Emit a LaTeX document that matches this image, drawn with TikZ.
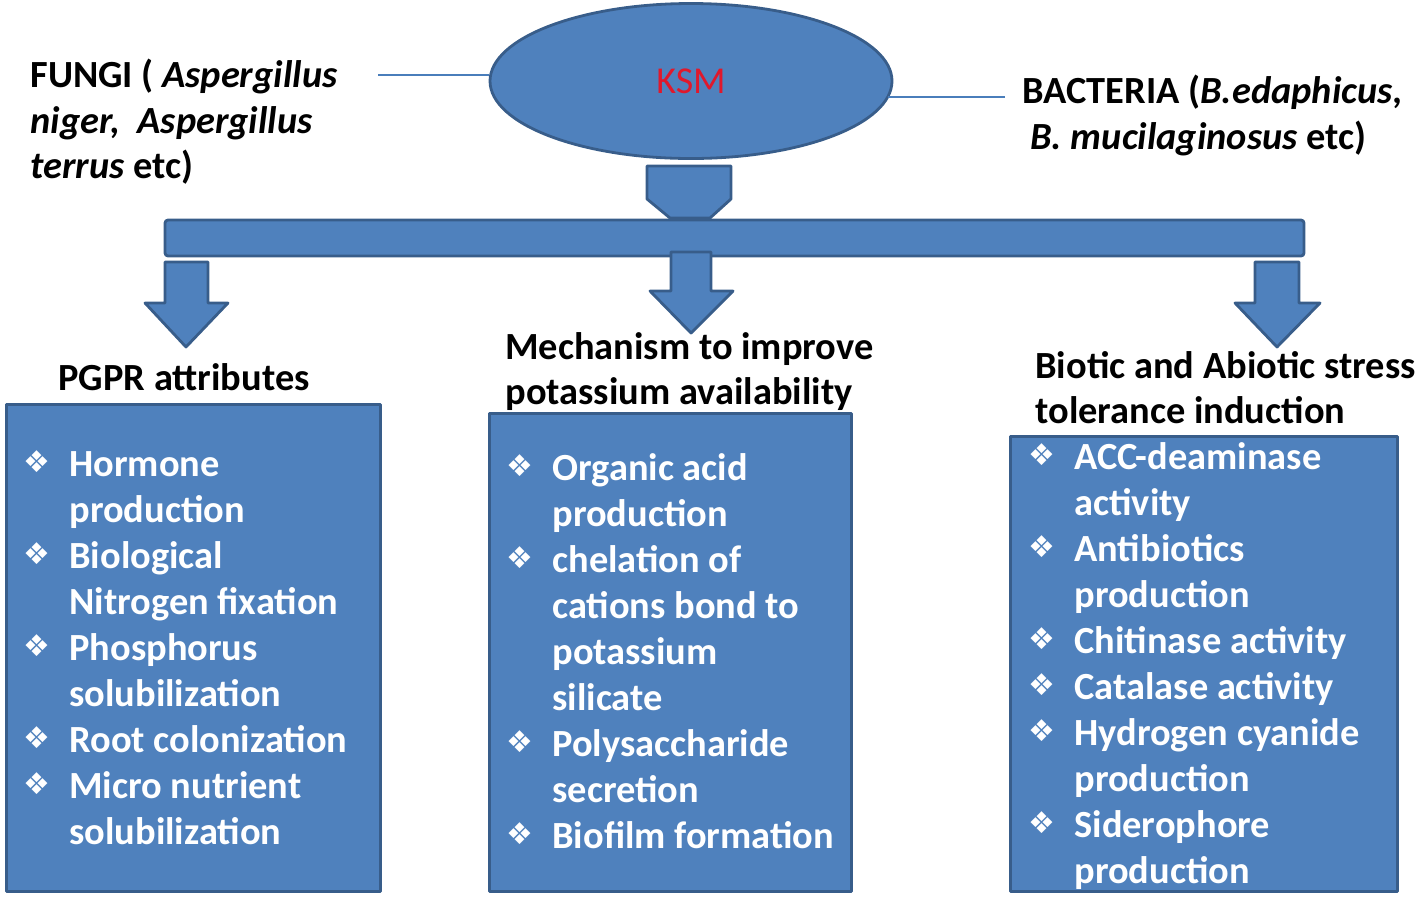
\documentclass[tikz,border=0pt]{standalone}
\usepackage{fontspec}
\setmainfont{Carlito}
\newfontfamily\djv{DejaVu Sans}
\usetikzlibrary{shapes.geometric}
\definecolor{fillb}{HTML}{4F81BD}
\definecolor{edgeb}{HTML}{385D8A}
\definecolor{lineb}{HTML}{4A7EBB}
\definecolor{ksmred}{HTML}{E0182C}
\begin{document}
\begin{tikzpicture}[x=0.5pt,y=-0.5pt,
 blk/.style={fill=fillb,draw=edgeb,line width=1.4pt,line join=round},
 wl/.style={anchor=base west,inner sep=0,text=white,font=\bfseries\fontsize{19.2}{23}\selectfont},
 hd/.style={anchor=base west,inner sep=0,font=\bfseries\fontsize{19.2}{23}\selectfont},
 bul/.style={anchor=base west,inner sep=0,text=white,font=\djv\fontsize{15}{15}\selectfont},
 conn/.style={draw=lineb,line width=0.7pt}]
\useasboundingbox (0,0) rectangle (1416,896);
% KSM ellipse
\node[blk,ellipse,inner sep=0,minimum width=201pt,minimum height=77.5pt] (ksm) at (691,81)
  {\textcolor{ksmred}{\fontsize{19}{22}\selectfont KSM}};
% side texts
\node[hd] (f1) at (30,87) {FUNGI ( \textit{Aspergillus}};
\node[hd] (f2) at (30,133) {\textit{niger,\ \ Aspergillus}};
\node[hd] (f3) at (30,178) {\textit{terrus} etc)};
\node[hd] (b1) at (1022,103) {BACTERIA (\textit{B.edaphicus},};
\node[hd] (b2) at (1030,149) {\textit{B. mucilaginosus} etc)};
\coordinate (fl) at (378,75);
\coordinate (br) at (1005,97);
\draw[conn] (fl) -- (ksm.west|-fl);
\draw[conn] (br) -- (888,97);
% pentagon connector
\draw[blk] (647,166) -- (731,166) -- (731,199) -- (710,218) -- (670,218) -- (647,199) -- cycle;
% bar
\draw[blk,rounded corners=1.5pt] (165,220) rectangle (1304,256);
% arrows
\draw[blk] (165,262) -- (208,262) -- (208,303) -- (228,303) -- (186,347) -- (145,303) -- (165,303) -- cycle;
\draw[blk] (671,252) -- (711,252) -- (711,291) -- (733,291) -- (691,333) -- (650,291) -- (671,291) -- cycle;
\draw[blk] (1255,262) -- (1299,262) -- (1299,303) -- (1320,303) -- (1277,347) -- (1235,303) -- (1255,303) -- cycle;
% headings
\node[hd] (h1) at (58,390) {PGPR attributes};
\node[hd] (h2a) at (505,359) {Mechanism to improve};
\node[hd] (h2b) at (505,404) {potassium availability};
\node[hd] (h3a) at (1035,378) {Biotic and Abiotic stress};
\node[hd] (h3b) at (1035,423) {tolerance induction};
% boxes
\node[blk,rectangle,anchor=north west,inner sep=0,minimum width=187pt,minimum height=243.5pt] (box1) at (5,403) {};
\node[blk,rectangle,anchor=north west,inner sep=0,minimum width=181pt,minimum height=239pt] (box2) at (488,412) {};
\node[blk,rectangle,anchor=north west,inner sep=0,minimum width=193.5pt,minimum height=227.5pt] (box3) at (1009,435) {};
% left list
\foreach \k/\t in {0/Hormone,1/production,2/Biological,3/Nitrogen fixation,4/Phosphorus,5/solubilization,6/Root colonization,7/Micro nutrient,8/solubilization}
  \node[wl] (l\k) at (69,476+46*\k) {\t};
\foreach \k in {0,2,4,6,7}
  \node[bul] (lb\k) at (23,472+46*\k) {❖};
% middle list
\foreach \k/\t in {0/Organic acid,1/production,2/chelation of,3/cations bond to,4/potassium,5/silicate,6/Polysaccharide,7/secretion,8/Biofilm formation}
  \node[wl] (m\k) at (552,480+46*\k) {\t};
\foreach \k in {0,2,6,8}
  \node[bul] (mb\k) at (506,476+46*\k) {❖};
% right list
\foreach \k/\t in {0/ACC-deaminase,1/activity,2/Antibiotics,3/production,4/Chitinase activity,5/Catalase activity,6/Hydrogen cyanide,7/production,8/Siderophore,9/production}
  \node[wl] (r\k) at (1074,469+46*\k) {\t};
\foreach \k in {0,2,4,5,6,8}
  \node[bul] (rb\k) at (1028,465+46*\k) {❖};
\end{tikzpicture}
\end{document}
